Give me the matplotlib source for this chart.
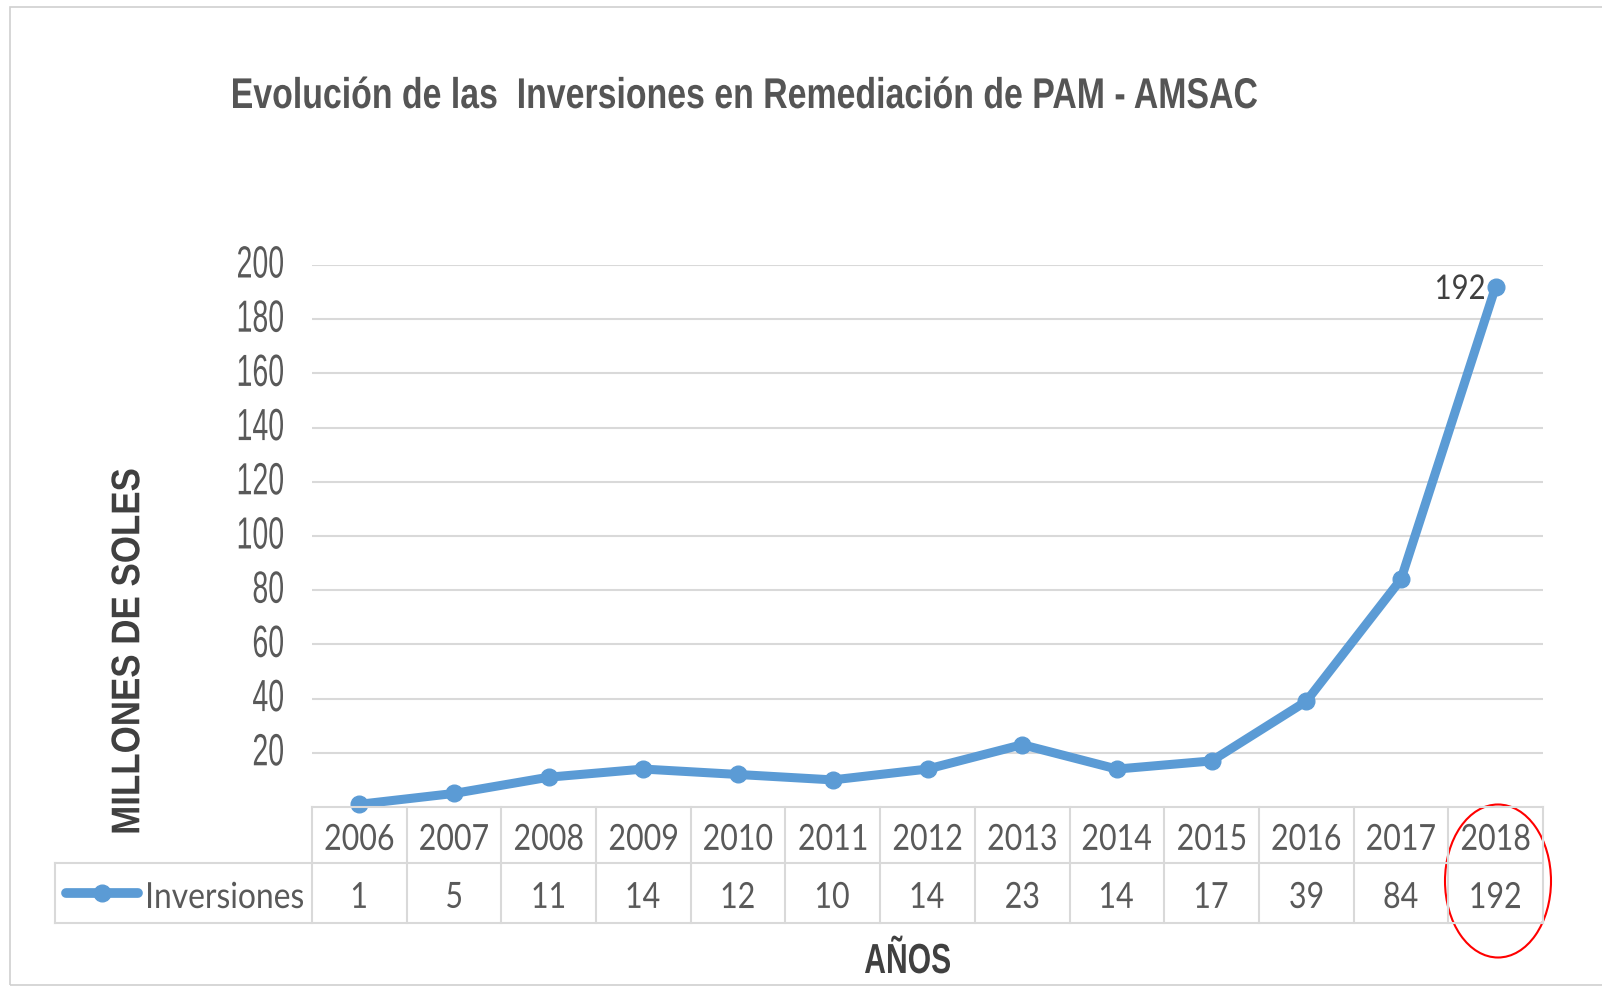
import matplotlib.pyplot as plt
import matplotlib.transforms as mtransforms
from matplotlib.patches import Ellipse, Rectangle, PathPatch
from matplotlib.textpath import TextPath
from matplotlib.font_manager import FontProperties

years = ["2006", "2007", "2008", "2009", "2010", "2011", "2012",
         "2013", "2014", "2015", "2016", "2017", "2018"]
inversiones = [1, 5, 11, 14, 12, 10, 14, 23, 14, 17, 39, 84, 192]
y_ticks = [20, 40, 60, 80, 100, 120, 140, 160, 180, 200]

W, H = 1602, 986
BLUE = "#5B9BD5"
GRID = "#D9D9D9"
TXT = "#595959"
ARIAL = "Liberation Sans"
CALIBRI = "Lato"

fig = plt.figure(figsize=(W / 100, H / 100), dpi=100)


def fx(px):
    return px / W


def fy(py):
    return 1 - py / H


def text_scale(s, em, family, width, weight="normal"):
    tp = TextPath((0, 0), s, size=em, prop=FontProperties(family=family, weight=weight))
    return width / tp.get_extents().width


def put_text(s, x, y, em, family, weight="normal", color=TXT, sx=None,
             width=None, ha="left", va="baseline", rotation=0):
    # text drawn as a path so it can be squeezed sideways (narrow fonts)
    tp = TextPath((0, 0), s, size=em, prop=FontProperties(family=family, weight=weight))
    bb = tp.get_extents()
    if width is not None:
        sx = width / bb.width
    ox = {"left": bb.x0, "center": (bb.x0 + bb.x1) / 2, "right": bb.x1}[ha]
    oy = 0 if va == "baseline" else (bb.y0 + bb.y1) / 2
    tr = (mtransforms.Affine2D().translate(-ox, -oy).scale(sx, 1)
          .rotate_deg(rotation).translate(x, H - y))
    fig.add_artist(PathPatch(tp, transform=tr, facecolor=color,
                             edgecolor="none", zorder=5))


# chart border
fig.patches.append(Rectangle((fx(10), fy(985)), 1.2, fy(7) - fy(985),
                             transform=fig.transFigure, fill=False,
                             edgecolor="#D0D0D0", lw=1.2))

left, right, top, bottom = 312, 1543, 265, 807
ax = fig.add_axes([fx(left), fy(bottom), fx(right) - fx(left), fy(top) - fy(bottom)])
x = list(range(len(years)))
ax.plot(x, inversiones, color=BLUE, lw=6.5, marker="o", ms=12,
        solid_capstyle="round", solid_joinstyle="round", zorder=3, clip_on=False)
ax.set_xlim(-0.5, len(years) - 0.5)
ax.set_ylim(0, 200)
ax.set_yticks(y_ticks)
ax.set_yticklabels([])
ax.tick_params(axis="y", length=0)
ax.set_xticks([])
ax.grid(axis="y", color=GRID, lw=1.5)
for s in ax.spines.values():
    s.set_visible(False)

# y tick labels (narrow)
tick_sx = text_scale("200", 45, ARIAL, 45)
for v in y_ticks:
    gy = H - ax.transData.transform((0, v))[1]
    put_text(str(v), 283, gy - 3, 45, ARIAL, sx=tick_sx, ha="right", va="center")

# data label of last point
px, py = ax.transData.transform((x[-1], inversiones[-1]))
put_text(str(inversiones[-1]), 1484, H - py, 34, CALIBRI, color="#404040",
         width=47, ha="right", va="center")

# data table
colw = (right - left) / len(years)
r0, r1, r2 = bottom, 863, 923
leg_left = 55


def hline(y, x0, x1):
    fig.add_artist(plt.Line2D([fx(x0), fx(x1)], [fy(y), fy(y)], color=GRID, lw=1.5))


def vline(xp, y0, y1):
    fig.add_artist(plt.Line2D([fx(xp), fx(xp)], [fy(y0), fy(y1)], color=GRID, lw=1.5))


hline(r0, left, right)
hline(r1, leg_left, right)
hline(r2, leg_left, right)
vline(leg_left, r1, r2)
for k in range(len(years) + 1):
    vline(left + k * colw, r0, r2)

tbl_sx = text_scale("2015", 36, CALIBRI, 67)
for k, (yr, v) in enumerate(zip(years, inversiones)):
    cx = left + (k + 0.5) * colw
    put_text(yr, cx, (r0 + r1) / 2 + 2, 36, CALIBRI, sx=tbl_sx, ha="center", va="center")
    put_text(str(v), cx, (r1 + r2) / 2 + 2, 36, CALIBRI, sx=tbl_sx, ha="center", va="center")

# legend key in table
ly = fy((r1 + r2) / 2)
fig.add_artist(plt.Line2D([fx(66), fx(138)], [ly, ly], color=BLUE, lw=7,
                          solid_capstyle="round"))
fig.add_artist(plt.Line2D([fx(102)], [ly], color=BLUE, marker="o", ms=12))
put_text("Inversiones", 148, (r1 + r2) / 2 + 2, 36, CALIBRI, width=155, va="center")

# titles
put_text("Evolución de las  Inversiones en Remediación de PAM - AMSAC", 233, 108,
         43, ARIAL, weight="bold", color="#555555", width=1024)
put_text("MILLONES DE SOLES", 125.5, 651, 40, ARIAL, weight="bold",
         color="#404040", width=363, ha="center", va="center", rotation=90)
put_text("AÑOS", 865, 973, 42, ARIAL, weight="bold", color="#404040", width=85)

# highlight circle around the last year
fig.patches.append(Ellipse((fx(1498), fy(881)), fx(106), 153 / H,
                           transform=fig.transFigure, fill=False,
                           edgecolor="red", lw=1.5))

fig.savefig("out.png", dpi=100)
